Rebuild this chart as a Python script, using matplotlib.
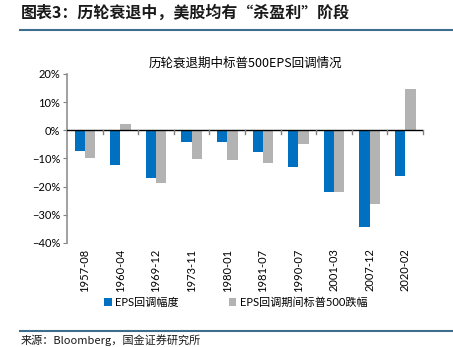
import matplotlib
matplotlib.use("Agg")
import matplotlib.pyplot as plt
import numpy as np
from matplotlib.ticker import PercentFormatter, FixedLocator

plt.rcParams['font.family'] = ['Lato', 'Noto Sans CJK SC', 'DejaVu Sans']

periods = ["1957-08", "1960-04", "1969-12", "1973-11", "1980-01",
           "1981-07", "1990-07", "2001-03", "2007-12", "2020-02"]
eps_drop = [-7.3, -12.5, -17.0, -4.2, -4.2, -7.9, -12.9, -21.9, -34.4, -16.2]
spx_drop = [-9.9, 2.1, -18.6, -10.1, -10.5, -11.8, -4.9, -22.1, -26.1, 14.5]

blue = "#0070C0"
gray = "#B3B3B3"

fig = plt.figure(figsize=(4.53, 3.47), dpi=100)
ax = fig.add_axes([0.148, 0.30, 0.786, 0.487])

x = np.arange(len(periods))
w = 0.29
ax.bar(x - w / 2, eps_drop, w, color=blue, label="EPS回调幅度")
ax.bar(x + w / 2, spx_drop, w, color=gray, label="EPS回调期间标普500跌幅")

ax.set_xlim(-0.5, len(periods) - 0.5)
ax.set_ylim(-40, 20)
ax.yaxis.set_major_locator(FixedLocator(range(-40, 21, 10)))
ax.yaxis.set_major_formatter(PercentFormatter(decimals=0))
ax.tick_params(axis='y', labelsize=8, color="#808080", length=3, pad=2)

for side in ["top", "right", "bottom"]:
    ax.spines[side].set_visible(False)
ax.spines["left"].set_color("#909090")
ax.spines["left"].set_linewidth(1.2)

# zero line with category separators
ax.axhline(0, color="black", lw=1.0, zorder=3)
for b in np.arange(-0.5, len(periods), 1.0)[1:]:
    ax.plot([b, b], [0, -1.3], color="#808080", lw=1.0, zorder=3, clip_on=False)

ax.set_xticks(x)
ax.set_xticklabels(periods, rotation=90, fontsize=8)
ax.tick_params(axis='x', length=0, pad=4)

ax.set_title("历轮衰退期中标普500EPS回调情况", fontsize=9, pad=5,
             family=['Noto Sans CJK SC', 'DejaVu Sans'])

fig.legend(loc="center", bbox_to_anchor=(0.52, 0.128), ncol=2, frameon=False,
           fontsize=8, handlelength=0.7, handleheight=0.7, columnspacing=4.5,
           handletextpad=0.3)

# report header / footer
fig.text(0.045, 0.965, "图表3：历轮衰退中，美股均有“杀盈利”阶段", fontsize=11.5,
         fontweight="bold", color="#1a1a1a", va="center",
         family=['Noto Sans CJK SC', 'DejaVu Sans'])
fig.add_artist(plt.Line2D([0.045, 1.0], [0.913, 0.913], color="#3E6E8E", lw=1.5,
                          transform=fig.transFigure))
fig.add_artist(plt.Line2D([0.045, 1.0], [0.046, 0.046], color="#3E6E8E", lw=1.5,
                          transform=fig.transFigure))
fig.text(0.045, 0.004, "来源：Bloomberg，国金证券研究所", fontsize=8, va="bottom",
         color="#1a1a1a", family=['Noto Sans CJK SC', 'DejaVu Sans'])

fig.savefig("out.png", dpi=100)
